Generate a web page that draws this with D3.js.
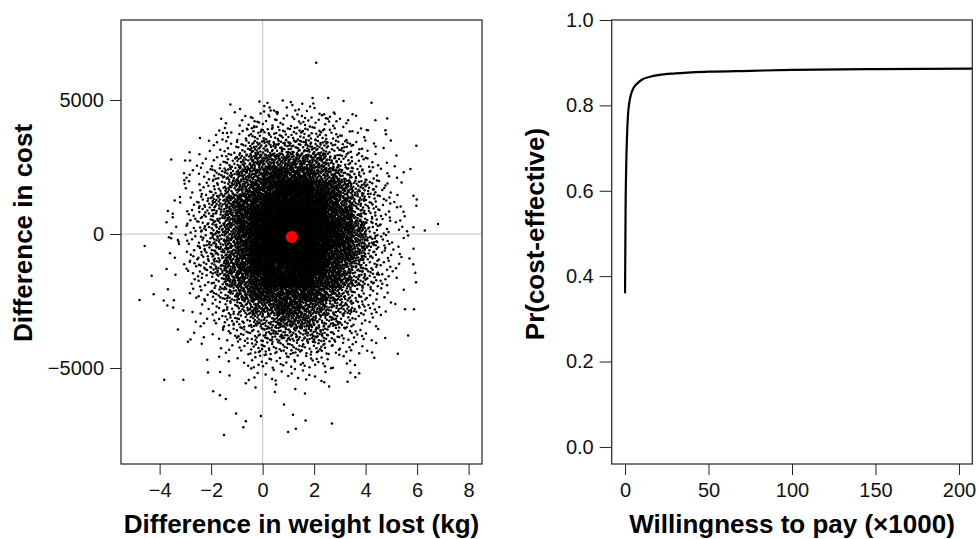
<!DOCTYPE html>
<html lang="en">
<head>
<meta charset="UTF-8">
<title>Cost-effectiveness plane and acceptability curve</title>
<script src="https://d3js.org/d3.v7.min.js"></script>
<style>
body { margin: 0; background: #fff; }
svg { display: block; }
.tick text { font-family: "Liberation Sans", Arial, sans-serif; font-size: 20px; fill: #111; }
.tick line { stroke: #222; }
.title { font-family: "Liberation Sans", Arial, sans-serif; font-size: 26px; font-weight: bold; fill: #000; }
</style>
</head>
<body>
<svg width="979" height="539"></svg>
<script>
// ---- left panel: simulated differences (weight lost kg, cost) ----
// isolated points far from the cloud
var outliers = [
    [2.08, 6390], [1.94, 5070], [2.55, 5070], [4.23, 4900], [-1.08, 4540], [1.54, 4860],
    [4.84, 4310], [5.97, 3290], [-3.55, 2780], [6.81, 370], [6.30, 130], [-4.58, -450],
    [-4.31, -1560], [-4.78, -2460], [-4.23, -2250], [-3.82, -5440], [-3.08, -5440],
    [-1.50, -7500], [0.99, -7390], [1.29, -7270], [2.69, -7070], [-0.07, -6790],
    [-0.75, -7210], [-1.03, -6700], [-0.65, -6990], [1.18, -6740], [1.67, -6960],
    [-1.92, -5870], [-1.66, -6020], [-1.43, -6160], [5.25, -4470], [5.65, -3790],
    [5.53, -2810], [5.88, -2810], [4.41, -4070], [4.25, -4420], [3.75, -5200],
    [3.30, -5510], [5.85, -1130], [5.86, -550], [5.86, 250], [5.97, 1050], [5.86, 1430],
    [5.74, 2430], [5.48, 2300], [5.13, 2530], [4.98, 3490], [4.77, 3870], [4.09, 3870],
    [3.32, 4240], [2.80, 4490], [2.39, 4470], [2.53, 4300], [2.58, 4200], [1.65, 4330],
    [1.27, 4610], [0.27, 4720], [0.44, 4610], [0.58, 4540], [0.06, 4570], [-0.31, 4210],
    [-0.61, 3930], [-0.89, 4050], [-1.54, 3770], [-1.38, 3770], [-2.05, 3100],
    [-3.01, 2740], [-2.82, 2740], [-3.04, 2010], [-3.21, 1380], [-3.20, 1180],
    [-3.68, 860], [-3.49, 760], [-3.54, 20], [-3.29, -220], [-3.25, -370], [-3.55, -160],
    [-3.73, -1310], [-3.68, -2060], [-3.84, -2480], [-3.70, -2670], [-3.29, -3560],
    [-3.08, -2850], [-2.90, -4020], [-2.80, -3940], [-2.15, -4690], [-2.12, -5170],
    [-1.65, -5150]
];

// density of the cloud itself:
// one row per 500 of cost (from 5000 down to -6500), one char per 0.5 kg (from -4.5 to 6.5)
var cloudX0 = -4.5, cloudDx = 0.5;
var cloudY0 = 5000, cloudDy = 500;
var levelCounts = [0, 1, 3, 6, 12, 22, 38, 62, 100, 150];
var cloudRows = [
    "0000001112222111000000",
    "0000011233333322110000",
    "0000122344444433211000",
    "0001123455555544321000",
    "0001234566666654331100",
    "0012345667777665432100",
    "0012345677888776543100",
    "0012456778888876543210",
    "0013456788998877543210",
    "0113456789999887643210",
    "0113456789999887653210",
    "0113456788999877643210",
    "0013456788888876543210",
    "0012346678888776543110",
    "0012345677777765432100",
    "0011234566776655432100",
    "0001234455666554321000",
    "0001123445555543321000",
    "0000112344444433210000",
    "0000011233333322110000",
    "0000001122222211100000",
    "0000000111111110000000",
    "0000000000100000000000"
];
var meanPoint = [1.13, -110];

var xTicksL = [-4, -2, 0, 2, 4, 6, 8];
var yTicksL = [-5000, 0, 5000];

// ---- right panel: acceptability curve ----
var wtp = [0, 0.3, 0.7, 1.2, 1.8, 2.5, 3.5, 5, 7, 10, 15, 20, 30, 50, 75, 100, 150, 208];
var probCE = [0.36, 0.55, 0.66, 0.73, 0.78, 0.805, 0.825, 0.84, 0.85, 0.86, 0.867, 0.871, 0.875, 0.879, 0.881, 0.883, 0.885, 0.886];
var xTicksR = [0, 50, 100, 150, 200];
var yTicksR = [0, 0.2, 0.4, 0.6, 0.8, 1.0];

var svg = d3.select('svg');

// spread each cell's count over the cell with a halton sequence (no randomness)
function halton(i, b) {
    var f = 1, r = 0;
    while (i > 0) {
        f = f / b;
        r += f * (i % b);
        i = Math.floor(i / b);
    }
    return r;
}
var cloud = [];
var k = 1;
cloudRows.forEach(function(row, ri) {
    row.split('').forEach(function(ch, ci) {
        var n = levelCounts[+ch];
        for (var j = 0; j < n; j++) {
            cloud.push([
                cloudX0 + (ci + halton(k, 2)) * cloudDx,
                cloudY0 - (ri + halton(k, 3)) * cloudDy
            ]);
            k++;
        }
    });
});
var points = cloud.concat(outliers);

// left panel
var xL = d3.scaleLinear().domain([-5.5, 8.52]).range([121, 482]);
var yL = d3.scaleLinear().domain([-8582, 7985]).range([464, 20]);

var left = svg.append('g');
left.append('line')
    .attr('x1', xL(0)).attr('x2', xL(0))
    .attr('y1', yL.range()[0]).attr('y2', yL.range()[1])
    .attr('stroke', '#c8c8c8').attr('stroke-width', 1.2);
left.append('line')
    .attr('x1', xL.range()[0]).attr('x2', xL.range()[1])
    .attr('y1', yL(0)).attr('y2', yL(0))
    .attr('stroke', '#c8c8c8').attr('stroke-width', 1.2);

left.append('g')
    .selectAll('circle')
    .data(points)
    .enter()
    .append('circle')
    .attr('cx', function(d) { return xL(d[0]); })
    .attr('cy', function(d) { return yL(d[1]); })
    .attr('r', 1.25)
    .attr('fill', '#000');

left.append('circle')
    .attr('cx', xL(meanPoint[0]))
    .attr('cy', yL(meanPoint[1]))
    .attr('r', 6)
    .attr('fill', '#ff0000');

left.append('rect')
    .attr('x', 121).attr('y', 20)
    .attr('width', 361).attr('height', 444)
    .attr('fill', 'none').attr('stroke', '#222').attr('stroke-width', 1.2);

var minus = function(v) { return v < 0 ? '\u2212' + Math.abs(v) : '' + v; };

left.append('g')
    .attr('transform', 'translate(0,464)')
    .call(d3.axisBottom(xL).tickValues(xTicksL).tickFormat(minus).tickSize(11).tickPadding(8))
    .call(function(g) { g.select('.domain').remove(); });
left.append('g')
    .attr('transform', 'translate(121,0)')
    .call(d3.axisLeft(yL).tickValues(yTicksL).tickFormat(minus).tickSize(11).tickPadding(6))
    .call(function(g) { g.select('.domain').remove(); });

left.append('text').attr('class', 'title')
    .attr('x', 301.5).attr('y', 533)
    .attr('text-anchor', 'middle')
    .text('Difference in weight lost (kg)');
left.append('text').attr('class', 'title')
    .attr('transform', 'translate(32,233) rotate(-90)')
    .attr('text-anchor', 'middle')
    .text('Difference in cost');

// right panel
var xR = d3.scaleLinear().domain([-8, 208]).range([611.7, 972.3]);
var yR = d3.scaleLinear().domain([-0.04, 1.0]).range([464, 20]);

var right = svg.append('g');
right.append('clipPath').attr('id', 'clipR')
    .append('rect').attr('x', 611.7).attr('y', 20).attr('width', 360.6).attr('height', 444);

var line = d3.line()
    .x(function(d, i) { return xR(wtp[i]); })
    .y(function(d) { return yR(d); })
    .curve(d3.curveMonotoneX);

right.append('path')
    .datum(probCE)
    .attr('d', line)
    .attr('clip-path', 'url(#clipR)')
    .attr('fill', 'none')
    .attr('stroke', '#000')
    .attr('stroke-width', 2.2);

right.append('rect')
    .attr('x', 611.7).attr('y', 20)
    .attr('width', 360.6).attr('height', 444)
    .attr('fill', 'none').attr('stroke', '#222').attr('stroke-width', 1.2);

right.append('g')
    .attr('transform', 'translate(0,464)')
    .call(d3.axisBottom(xR).tickValues(xTicksR).tickSize(11).tickPadding(8))
    .call(function(g) { g.select('.domain').remove(); });
right.append('g')
    .attr('transform', 'translate(611.7,0)')
    .call(d3.axisLeft(yR).tickValues(yTicksR).tickFormat(d3.format('.1f')).tickSize(12).tickPadding(6))
    .call(function(g) { g.select('.domain').remove(); });

right.append('text').attr('class', 'title')
    .attr('x', 792).attr('y', 533)
    .attr('text-anchor', 'middle')
    .text('Willingness to pay (\u00d71000)');
right.append('text').attr('class', 'title')
    .attr('transform', 'translate(544,234) rotate(-90)')
    .attr('text-anchor', 'middle')
    .text('Pr(cost-effective)');
</script>
</body>
</html>
